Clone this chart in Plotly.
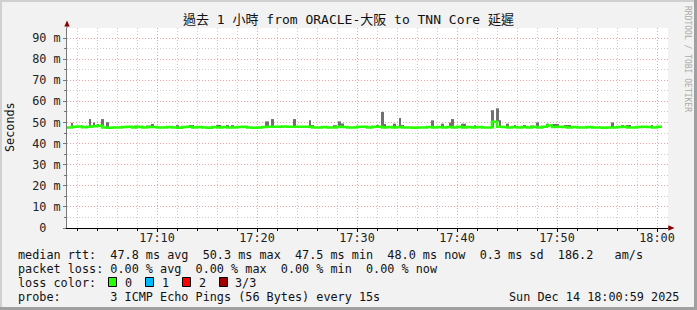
import plotly.graph_objects as go
from datetime import datetime, timedelta

# ---------------- data ----------------
title_text = "過去 1 小時 from ORACLE-大阪 to TNN Core 延遲"
y_tick_values = [0, 10, 20, 30, 40, 50, 60, 70, 80, 90]
y_tick_labels = ["0\u00a0\u00a0", "10 m", "20 m", "30 m", "40 m", "50 m", "60 m", "70 m", "80 m", "90 m"]

series_start = "2025-12-14 17:01:00"
median_step_s = 30
# median rtt (ms), one value per 30 s, 17:01:00 ... 18:00:00
median_ms = [
    47.6, 48.0, 48.1, 47.7, 48.0, 48.2, 48.4, 47.6, 47.5, 47.6,
    47.6, 47.9, 48.0, 47.6, 48.0, 47.6, 47.9, 47.9, 47.6, 47.6,
    47.9, 47.6, 47.5, 47.9, 48.0, 47.6, 47.9, 47.6, 47.5, 47.9,
    47.6, 47.9, 47.6, 47.6, 47.9, 48.0, 47.6, 47.5, 47.6, 47.9,
    48.0, 48.0, 48.0, 48.1, 48.0, 48.0, 48.0, 48.0, 48.0, 47.6,
    47.6, 47.9, 47.6, 47.6, 48.0, 47.9, 47.6, 47.6, 48.0, 48.0,
    47.6, 48.0, 48.0, 47.6, 47.9, 47.6, 47.9, 47.6, 47.6, 47.5,
    47.6, 47.6, 47.9, 47.6, 47.9, 47.6, 47.9, 47.6, 48.0, 47.6,
    47.9, 47.6, 47.9, 47.6, 47.6, 50.3, 48.0, 47.9, 47.6, 47.9,
    47.6, 47.9, 47.6, 48.0, 47.6, 48.0, 48.6, 47.9, 48.0, 47.9,
    47.6, 47.9, 47.6, 47.6, 47.9, 47.6, 47.6, 47.5, 47.6, 47.6,
    47.9, 48.0, 47.6, 47.6, 47.9, 48.0, 47.9, 47.6, 48.0,
]

# smoke (ping spread) spikes: start time, duration (s), max rtt (ms)
smoke_start = [
    "17:01:24", "17:03:12", "17:03:36", "17:04:00", "17:04:24", "17:04:54", "17:07:42",
    "17:08:54", "17:09:24", "17:11:54", "17:13:12", "17:15:54", "17:16:54", "17:17:24",
    "17:20:48", "17:21:24", "17:23:36", "17:25:12", "17:25:24", "17:27:36", "17:28:06",
    "17:28:24", "17:31:54", "17:32:24", "17:32:42", "17:33:36", "17:34:12", "17:34:24",
    "17:37:24", "17:38:24", "17:39:12", "17:39:24", "17:40:24", "17:41:42", "17:43:24",
    "17:43:54", "17:44:12", "17:44:54", "17:45:42", "17:46:36", "17:47:18", "17:47:54",
    "17:48:54", "17:49:24", "17:50:42", "17:55:24", "17:56:24", "17:56:54", "17:59:24",
]
smoke_dur_s = [
    12, 12, 12, 12, 18, 18, 24,
    30, 18, 18, 30, 30, 18, 18,
    24, 18, 18, 12, 18, 24, 18,
    18, 18, 18, 12, 18, 12, 18,
    18, 18, 12, 18, 30, 12, 18,
    18, 12, 18, 12, 18, 24, 18,
    18, 48, 42, 18, 18, 30, 12,
]
smoke_max_ms = [
    49.9, 51.6, 50.0, 49.1, 51.6, 50.1, 48.5,
    48.5, 49.3, 48.7, 48.5, 48.7, 48.7, 48.7,
    50.5, 51.6, 51.6, 51.0, 48.7, 48.7, 50.5,
    49.5, 48.8, 55.0, 49.3, 49.4, 52.1, 48.6,
    51.0, 49.4, 50.0, 51.6, 49.4, 48.7, 55.8,
    56.7, 51.0, 49.4, 48.8, 48.5, 48.5, 50.0,
    49.4, 48.8, 48.8, 50.0, 48.8, 48.5, 48.8,
]

legend_rows = [
    "median rtt:  47.8 ms avg  50.3 ms max  47.5 ms min  48.0 ms now  0.3 ms sd  186.2   am/s",
    "packet loss: 0.00 % avg  0.00 % max  0.00 % min  0.00 % now",
]
loss_labels = ["0", "1", "2", "3/3"]
loss_colors = ["#26ff00", "#00b8ff", "#ff0000", "#a00000"]
probe_text = "probe:       3 ICMP Echo Pings (56 Bytes) every 15s"
stamp_text = "Sun Dec 14 18:00:59 2025"
watermark = "RRDTOOL / TOBI OETIKER"

# ---------------- geometry helpers ----------------
W, H = 697, 310
L, R, T, B = 67, 668, 28, 228
PW, PH = R - L, B - T


def px(x):
    return (x - L) / PW


def py(y):
    return (B - y) / PH


def nb(s):
    return s.replace(" ", "\u00a0")


t0 = datetime.fromisoformat(series_start)
day = t0.date().isoformat()
median_times = [t0 + timedelta(seconds=median_step_s * i) for i in range(len(median_ms))]
line_x = median_times + [median_times[-1] + timedelta(seconds=median_step_s)]
line_y = median_ms + [median_ms[-1]]

smoke_t = [datetime.fromisoformat(day + " " + s) for s in smoke_start]
smoke_mid = [t + timedelta(seconds=d / 2) for t, d in zip(smoke_t, smoke_dur_s)]
smoke_base = []
for t in smoke_t:
    idx = min(int((t - t0).total_seconds() // median_step_s), len(median_ms) - 1)
    smoke_base.append(median_ms[idx])
smoke_h = [m - b for m, b in zip(smoke_max_ms, smoke_base)]

MONO = "DejaVu Sans Mono"
FS = 11.8

fig = go.Figure()
fig.add_trace(go.Bar(
    x=smoke_mid, y=smoke_h, base=smoke_base,
    width=[d * 1000 for d in smoke_dur_s],
    marker=dict(color="#707070", line=dict(width=0)),
    hoverinfo="skip", showlegend=False,
))
fig.add_trace(go.Scatter(
    x=line_x, y=line_y, mode="lines",
    line=dict(color="#26ff00", width=2.5, shape="hv"),
    hoverinfo="skip", showlegend=False,
))

x_end = t0 + timedelta(seconds=PW * 6)
fig.update_xaxes(
    type="date", range=[t0, x_end],
    tick0=day + " 17:00:00", dtick=600000, tickformat="%H:%M",
    ticks="outside", ticklen=3, tickcolor="#000", ticklabelstandoff=-4,
    showgrid=True, gridcolor="#f2a0a0", griddash="1px,2px", gridwidth=1,
    minor=dict(dtick=120000, tick0=day + " 17:00:00", ticks="outside", ticklen=2,
               tickcolor="#000", showgrid=True, gridcolor="#cccccc", griddash="1px,2px"),
    showline=True, linecolor="#000", linewidth=1,
    zeroline=False,
    tickfont=dict(family=MONO, size=FS, color="#222"),
    fixedrange=True,
)
fig.update_yaxes(
    range=[0, 94.74],
    tickvals=y_tick_values, ticktext=y_tick_labels,
    ticks="outside", ticklen=3, tickcolor="#777",
    showgrid=True, gridcolor="#f2a0a0", griddash="1px,2px", gridwidth=1,
    minor=dict(dtick=5, tick0=0, ticks="outside", ticklen=2, tickcolor="#777",
               showgrid=True, gridcolor="#cccccc", griddash="1px,2px"),
    showline=True, linecolor="#777", linewidth=1,
    zeroline=False,
    tickfont=dict(family=MONO, size=FS, color="#222"),
    fixedrange=True,
)

ann = []
ann.append(dict(text=title_text, x=px(348), y=py(20), xref="paper", yref="paper",
                xanchor="center", yanchor="middle", showarrow=False,
                font=dict(family=MONO + ", Noto Sans CJK TC", size=13, color="#111")))
ann.append(dict(text="Seconds", x=px(10), y=py(127), xref="paper", yref="paper",
                xanchor="center", yanchor="middle", showarrow=False, textangle=-90,
                font=dict(family=MONO, size=FS, color="#111")))
ann.append(dict(text=watermark, x=px(688), y=py(59), xref="paper", yref="paper",
                xanchor="center", yanchor="middle", showarrow=False, textangle=90,
                font=dict(family=MONO, size=8, color="#aaaaaa")))
row_y = [254.5, 268.5]
for txt, yy in zip(legend_rows, row_y):
    ann.append(dict(text=nb(txt), x=px(16), y=py(yy), xref="paper", yref="paper",
                    xanchor="left", yanchor="middle", showarrow=False,
                    font=dict(family=MONO, size=FS, color="#111")))
ann.append(dict(text=nb("loss color:"), x=px(16), y=py(282.5), xref="paper", yref="paper",
                xanchor="left", yanchor="middle", showarrow=False,
                font=dict(family=MONO, size=FS, color="#111")))
box_left = [108.5, 145.5, 182.5, 219.5]
shapes = []
for bx, lab, col in zip(box_left, loss_labels, loss_colors):
    shapes.append(dict(type="rect", xref="paper", yref="paper",
                       x0=px(bx), x1=px(bx + 8), y0=py(286.5), y1=py(277.5),
                       fillcolor=col, line=dict(color="#000", width=1)))
    ann.append(dict(text=lab, x=px(bx + 14), y=py(282.5), xref="paper", yref="paper",
                    xanchor="left", yanchor="middle", showarrow=False,
                    font=dict(family=MONO, size=FS, color="#111")))
ann.append(dict(text=nb(probe_text), x=px(16), y=py(296.5), xref="paper", yref="paper",
                xanchor="left", yanchor="middle", showarrow=False,
                font=dict(family=MONO, size=FS, color="#111")))
ann.append(dict(text=nb(stamp_text), x=px(681), y=py(296.5), xref="paper", yref="paper",
                xanchor="right", yanchor="middle", showarrow=False,
                font=dict(family=MONO, size=FS, color="#111")))

# axis extensions and arrows
shapes.append(dict(type="line", xref="paper", yref="paper", x0=0, x1=0, y0=1, y1=py(25),
                   line=dict(color="#777", width=1)))
shapes.append(dict(type="path", xref="paper", yref="paper",
                   path=f"M {px(67)},{py(20.5)} L {px(64.3)},{py(26.5)} L {px(69.7)},{py(26.5)} Z",
                   fillcolor="#8b0000", line=dict(width=0)))
shapes.append(dict(type="line", xref="paper", yref="paper", x0=1, x1=px(670), y0=0, y1=0,
                   line=dict(color="#000", width=1)))
shapes.append(dict(type="path", xref="paper", yref="paper",
                   path=f"M {px(674.5)},{py(228)} L {px(668.3)},{py(225.3)} L {px(668.3)},{py(230.7)} Z",
                   fillcolor="#8b0000", line=dict(width=0)))
# outer frame
shapes.append(dict(type="rect", xref="paper", yref="paper", x0=px(0), x1=px(697), y0=py(0), y1=py(2),
                   fillcolor="#d0d0d0", line=dict(width=0), layer="below"))
shapes.append(dict(type="rect", xref="paper", yref="paper", x0=px(0), x1=px(2), y0=py(0), y1=py(310),
                   fillcolor="#d0d0d0", line=dict(width=0), layer="below"))
shapes.append(dict(type="rect", xref="paper", yref="paper", x0=px(0), x1=px(697), y0=py(307), y1=py(310),
                   fillcolor="#a0a0a0", line=dict(width=0), layer="below"))
shapes.append(dict(type="rect", xref="paper", yref="paper", x0=px(694), x1=px(697), y0=py(0), y1=py(310),
                   fillcolor="#a0a0a0", line=dict(width=0), layer="below"))

fig.update_layout(
    width=W, height=H,
    margin=dict(l=L, r=W - R, t=T, b=H - B, pad=0),
    paper_bgcolor="#f2f2f2", plot_bgcolor="#ffffff",
    barmode="overlay", showlegend=False,
    annotations=ann, shapes=shapes,
    font=dict(family=MONO, size=FS, color="#111"),
)

fig.write_html("out.html", config={"displayModeBar": False})
